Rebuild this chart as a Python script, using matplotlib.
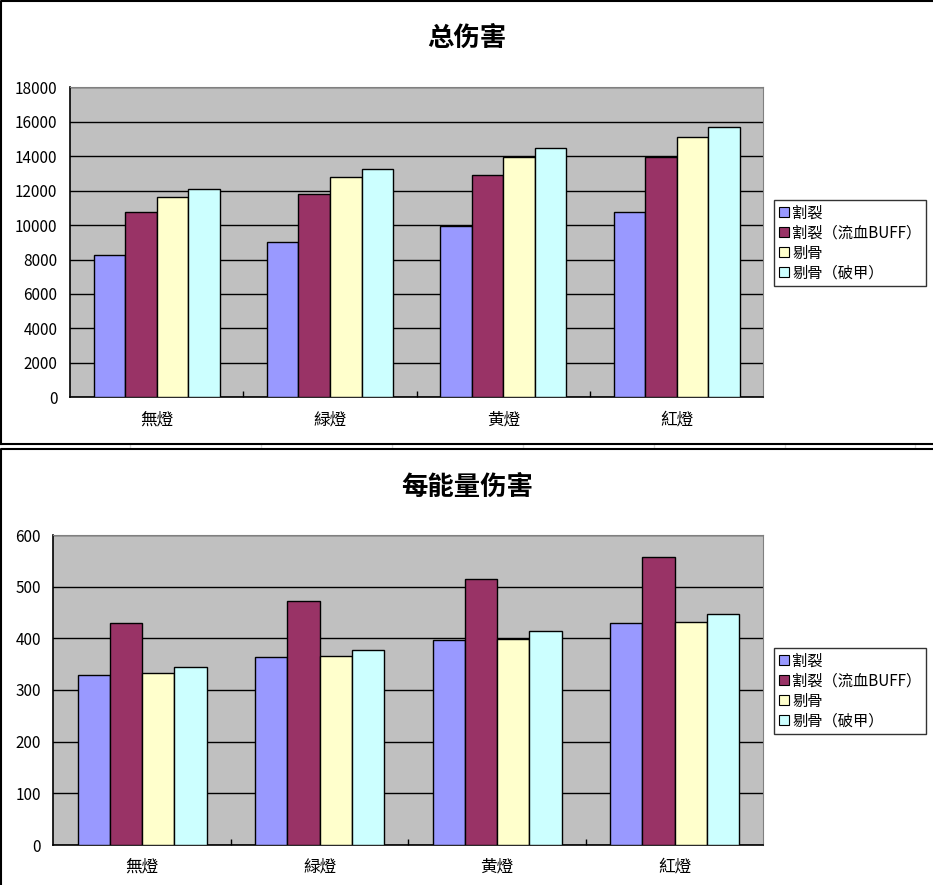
import matplotlib
matplotlib.use('Agg')
import matplotlib.pyplot as plt
from matplotlib.lines import Line2D
from matplotlib.patches import Patch
import numpy as np

plt.rcParams['font.family'] = ['Noto Sans CJK SC', 'DejaVu Sans']

categories = ['無燈', '緑燈', '黄燈', '紅燈']
series_names = ['割裂', '割裂（流血BUFF）', '剔骨', '剔骨（破甲）']
colors = ['#9999FF', '#993366', '#FFFFCC', '#CCFFFF']

total_damage = [
    [8250, 9040, 9950, 10740],
    [10750, 11790, 12890, 13950],
    [11610, 12770, 13970, 15100],
    [12080, 13240, 14460, 15680],
]
energy_damage = [
    [330, 363, 396, 429],
    [429, 472, 514, 557],
    [332, 365, 399, 431],
    [344, 377, 414, 447],
]

W, H = 933, 885
fig = plt.figure(figsize=(W / 100, H / 100), dpi=100)


def px_axes(left, top, right, bottom):
    return fig.add_axes([left / W, 1 - bottom / H, (right - left) / W, (bottom - top) / H])


def draw_chart(ax, data, ymax, ystep, title, title_y, legend_top):
    n = len(series_names)
    bw = 1 / (n + 1.5)
    x = np.arange(len(categories))
    for i, vals in enumerate(data):
        ax.bar(x + (i - (n - 1) / 2) * bw, vals, bw, color=colors[i],
               edgecolor='black', linewidth=1, zorder=3)
    ax.set_xlim(-0.5, len(categories) - 0.5)
    ax.set_ylim(0, ymax)
    ax.set_facecolor('#C0C0C0')
    ax.set_yticks(np.arange(0, ymax + 1, ystep))
    ax.yaxis.grid(True, color='black', linewidth=1, zorder=1)
    ax.set_xticks(x)
    ax.set_xticklabels(categories, fontsize=12)
    ax.set_xticks(np.arange(0.5, len(categories) - 0.5), minor=True)
    ax.tick_params(axis='x', which='major', length=0, pad=10)
    ax.tick_params(axis='x', which='minor', direction='in', length=4, width=1)
    ax.tick_params(axis='y', length=0, pad=9, labelsize=11)
    for s in ['top', 'right']:
        ax.spines[s].set_color('#808080')
    for s in ['left', 'bottom']:
        ax.spines[s].set_color('black')
        ax.spines[s].set_linewidth(1.2)
    fig.text(467 / W, 1 - title_y / H, title, ha='center', va='center',
             fontsize=19, fontweight='bold')
    handles = [Patch(facecolor=c, edgecolor='black', linewidth=0.8) for c in colors]
    leg = fig.legend(handles, series_names, loc='upper left',
                     bbox_to_anchor=(774 / W, 1 - legend_top / H),
                     fontsize=11, frameon=True, fancybox=False,
                     handlelength=0.65, handleheight=0.65, handletextpad=0.25,
                     labelspacing=0.2, borderpad=0.3, borderaxespad=0)
    leg.get_frame().set_edgecolor('black')
    leg.get_frame().set_linewidth(1)


ax1 = px_axes(70, 87.3, 763.3, 397.3)
draw_chart(ax1, total_damage, 18000, 2000, '总伤害', 38, 200)

ax2 = px_axes(53.3, 535, 763.3, 845)
draw_chart(ax2, energy_damage, 600, 100, '每能量伤害', 487, 648)

# sheet grid visible between the two chart frames
for gx in [130, 261, 392, 523, 654, 785, 915]:
    fig.add_artist(Line2D([gx / W, gx / W], [1 - 444 / H, 1 - 448 / H],
                          color='#D8D8D8', linewidth=1))

# chart frames
frame = dict(color='black', linewidth=1.5)
fig.add_artist(Line2D([0.001, 0.001, 1], [1 - 444 / H, 0.999, 0.999], **frame))
fig.add_artist(Line2D([0.001, 1], [1 - 444 / H, 1 - 444 / H], **frame))
fig.add_artist(Line2D([0.001, 0.001, 1], [0, 1 - 448.5 / H, 1 - 448.5 / H], **frame))

fig.savefig('out.png', dpi=100)
